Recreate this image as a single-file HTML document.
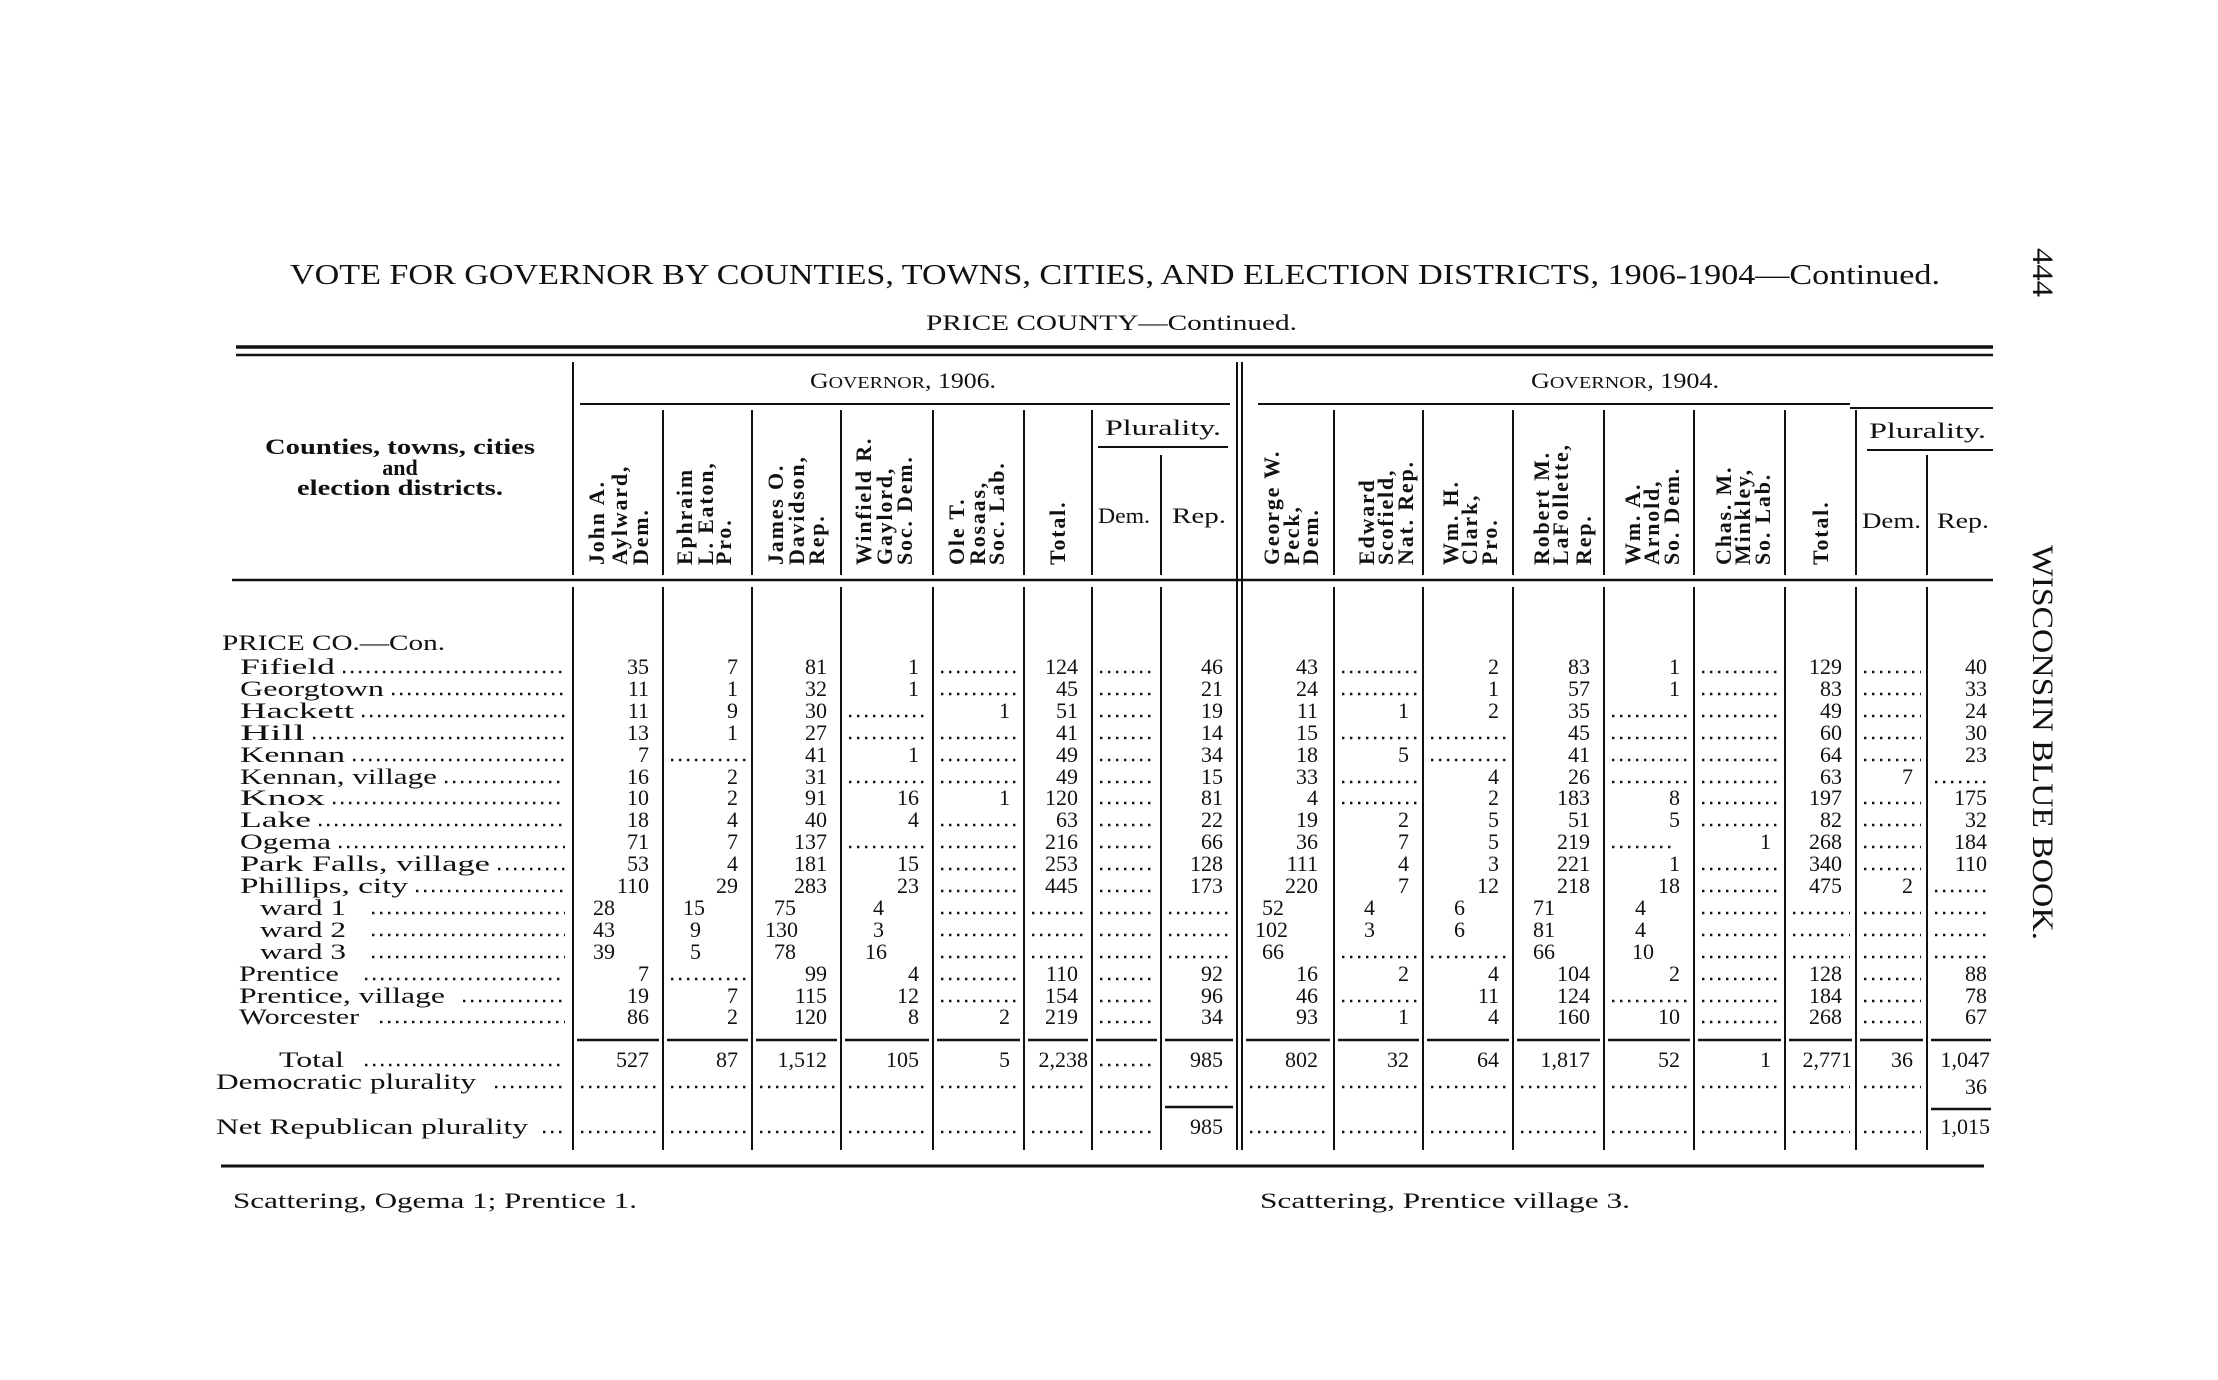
<!DOCTYPE html>
<html><head><meta charset="utf-8"><style>
html,body{margin:0;padding:0;background:#fff}
svg{display:block}
text{font-family:"Liberation Serif",serif;fill:#111}
.n text{font-size:22px;text-anchor:end}
.s text{text-anchor:start}
.d{fill:none;stroke:#111;stroke-width:2.6;stroke-dasharray:2.4 5.6}
.h{font-weight:bold;font-size:22px;letter-spacing:1.8px}
.l{stroke:#111;fill:none}
</style></head><body>
<svg width="2218" height="1380" viewBox="0 0 2218 1380" xmlns="http://www.w3.org/2000/svg">
<rect width="2218" height="1380" fill="#fff"/>
<text x="290" y="284" font-size="28" textLength="1650" lengthAdjust="spacingAndGlyphs">VOTE FOR GOVERNOR BY COUNTIES, TOWNS, CITIES, AND ELECTION DISTRICTS, 1906-1904—Continued.</text>
<text x="926" y="330" font-size="22" textLength="371" lengthAdjust="spacingAndGlyphs">PRICE COUNTY—Continued.</text>
<text transform="translate(2033,248) rotate(90)" font-size="30" textLength="49" lengthAdjust="spacingAndGlyphs">444</text>
<text transform="translate(2033,545) rotate(90)" font-size="30" textLength="395" lengthAdjust="spacingAndGlyphs">WISCONSIN BLUE BOOK.</text>

<path class="l" stroke-width="3.5" d="M236 347H1993"/>
<path class="l" stroke-width="2.5" d="M236 355H1993"/>
<path class="l" stroke-width="2.5" d="M232 580H1993"/>
<path class="l" stroke-width="2" d="M580 404H1230M1258 404H1850M1850 408H1993M1098 447H1228M1867 450H1993"/>
<path class="l" stroke-width="3" d="M221 1166H1984"/>
<path class="l" stroke-width="2" d="M573 362V575M663 410V575M752 410V575M841 410V575M933 410V575M1024 410V575M1092 410V575M1161 455V575M1237 362V1150M1242 362V1150M1334 410V575M1423 410V575M1513 410V575M1604 410V575M1694 410V575M1785 410V575M1856 410V575M1927 455V575"/>
<path class="l" stroke-width="2" d="M573 587V1150M663 587V1150M752 587V1150M841 587V1150M933 587V1150M1024 587V1150M1092 587V1150M1161 587V1150M1334 587V1150M1423 587V1150M1513 587V1150M1604 587V1150M1694 587V1150M1785 587V1150M1856 587V1150M1927 587V1150"/>

<g font-size="22" font-weight="bold" text-anchor="middle">
<text x="400" y="454" textLength="270" lengthAdjust="spacingAndGlyphs">Counties, towns, cities</text>
<text x="400" y="475">and</text>
<text x="400" y="495" textLength="206" lengthAdjust="spacingAndGlyphs">election districts.</text>
</g>
<text x="810" y="388" font-size="22" textLength="186" lengthAdjust="spacingAndGlyphs">G<tspan font-size="17">OVERNOR</tspan>, 1906.</text>
<text x="1531" y="388" font-size="22" textLength="188" lengthAdjust="spacingAndGlyphs">G<tspan font-size="17">OVERNOR</tspan>, 1904.</text>
<g font-size="22">
<text x="1105" y="435" textLength="116" lengthAdjust="spacingAndGlyphs">Plurality.</text>
<text x="1869" y="438" textLength="117" lengthAdjust="spacingAndGlyphs">Plurality.</text>
<text x="1098" y="523" textLength="52" lengthAdjust="spacingAndGlyphs">Dem.</text>
<text x="1172" y="523" textLength="54" lengthAdjust="spacingAndGlyphs">Rep.</text>
<text x="1862" y="528" textLength="59" lengthAdjust="spacingAndGlyphs">Dem.</text>
<text x="1937" y="528" textLength="52" lengthAdjust="spacingAndGlyphs">Rep.</text>
</g>
<g class="h">
<text transform="translate(604,565) rotate(-90)">John A.</text>
<text transform="translate(627,565) rotate(-90)">Aylward,</text>
<text transform="translate(648,565) rotate(-90)">Dem.</text>
<text transform="translate(692,565) rotate(-90)">Ephraim</text>
<text transform="translate(713,565) rotate(-90)">L. Eaton,</text>
<text transform="translate(731,565) rotate(-90)">Pro.</text>
<text transform="translate(783,565) rotate(-90)">James O.</text>
<text transform="translate(804,565) rotate(-90)">Davidson,</text>
<text transform="translate(824,565) rotate(-90)">Rep.</text>
<text transform="translate(871,565) rotate(-90)">Winfield R.</text>
<text transform="translate(892,565) rotate(-90)">Gaylord,</text>
<text transform="translate(912,565) rotate(-90)">Soc. Dem.</text>
<text transform="translate(964,565) rotate(-90)">Ole T.</text>
<text transform="translate(985,565) rotate(-90)">Rosaas,</text>
<text transform="translate(1004,565) rotate(-90)">Soc. Lab.</text>
<text transform="translate(1065,565) rotate(-90)">Total.</text>
<text transform="translate(1279,565) rotate(-90)">George W.</text>
<text transform="translate(1299,565) rotate(-90)">Peck,</text>
<text transform="translate(1318,565) rotate(-90)">Dem.</text>
<text transform="translate(1374,565) rotate(-90)">Edward</text>
<text transform="translate(1393,565) rotate(-90)">Scofield,</text>
<text transform="translate(1413,565) rotate(-90)">Nat. Rep.</text>
<text transform="translate(1458,565) rotate(-90)">Wm. H.</text>
<text transform="translate(1477,565) rotate(-90)">Clark,</text>
<text transform="translate(1497,565) rotate(-90)">Pro.</text>
<text transform="translate(1549,565) rotate(-90)">Robert M.</text>
<text transform="translate(1568,565) rotate(-90)">LaFollette,</text>
<text transform="translate(1591,565) rotate(-90)">Rep.</text>
<text transform="translate(1640,565) rotate(-90)">Wm. A.</text>
<text transform="translate(1659,565) rotate(-90)">Arnold,</text>
<text transform="translate(1679,565) rotate(-90)">So. Dem.</text>
<text transform="translate(1731,565) rotate(-90)">Chas. M.</text>
<text transform="translate(1750,565) rotate(-90)">Minkley,</text>
<text transform="translate(1770,565) rotate(-90)">So. Lab.</text>
<text transform="translate(1828,565) rotate(-90)">Total.</text>
</g>

<g font-size="22">
<text x="222" y="650" textLength="223" lengthAdjust="spacingAndGlyphs">PRICE CO.—Con.</text>
<text x="240" y="674" textLength="95" lengthAdjust="spacingAndGlyphs">Fifield</text>
<text x="240" y="696" textLength="144" lengthAdjust="spacingAndGlyphs">Georgtown</text>
<text x="240" y="718" textLength="114" lengthAdjust="spacingAndGlyphs">Hackett</text>
<text x="240" y="740" textLength="65" lengthAdjust="spacingAndGlyphs">Hill</text>
<text x="240" y="762" textLength="105" lengthAdjust="spacingAndGlyphs">Kennan</text>
<text x="240" y="784" textLength="197" lengthAdjust="spacingAndGlyphs">Kennan, village</text>
<text x="240" y="805" textLength="85" lengthAdjust="spacingAndGlyphs">Knox</text>
<text x="240" y="827" textLength="71" lengthAdjust="spacingAndGlyphs">Lake</text>
<text x="240" y="849" textLength="91" lengthAdjust="spacingAndGlyphs">Ogema</text>
<text x="240" y="871" textLength="250" lengthAdjust="spacingAndGlyphs">Park Falls, village</text>
<text x="240" y="893" textLength="168" lengthAdjust="spacingAndGlyphs">Phillips, city</text>
<text x="260" y="915" textLength="86" lengthAdjust="spacingAndGlyphs">ward 1</text>
<text x="260" y="937" textLength="86" lengthAdjust="spacingAndGlyphs">ward 2</text>
<text x="260" y="959" textLength="86" lengthAdjust="spacingAndGlyphs">ward 3</text>
<text x="239" y="981" textLength="100" lengthAdjust="spacingAndGlyphs">Prentice</text>
<text x="239" y="1003" textLength="206" lengthAdjust="spacingAndGlyphs">Prentice, village</text>
<text x="239" y="1024" textLength="120" lengthAdjust="spacingAndGlyphs">Worcester</text>
<text x="279" y="1067" textLength="65" lengthAdjust="spacingAndGlyphs">Total</text>
<text x="216" y="1089" textLength="260" lengthAdjust="spacingAndGlyphs">Democratic plurality</text>
<text x="216" y="1134" textLength="312" lengthAdjust="spacingAndGlyphs">Net Republican plurality</text>
<text x="233" y="1208" textLength="404" lengthAdjust="spacingAndGlyphs">Scattering, Ogema 1; Prentice 1.</text>
<text x="1260" y="1208" textLength="370" lengthAdjust="spacingAndGlyphs">Scattering, Prentice village 3.</text>
</g>
<path class="d" d="M343 672H565M392 694H565M362 716H565M313 738H565M353 760H565M445 782H565M333 803H565M319 825H565M339 847H565M498 869H565M416 891H565M372 913H565M372 935H565M372 957H565M365 979H565M463 1001H565M380 1022H565M365 1065H565M495 1087H565M543 1132H565"/>

<g class="n">
<text x="649" y="674">35</text><text x="738" y="674">7</text><text x="827" y="674">81</text><text x="919" y="674">1</text><text x="1078" y="674">124</text><text x="1223" y="674">46</text>
<text x="1318" y="674">43</text><text x="1499" y="674">2</text><text x="1590" y="674">83</text><text x="1680" y="674">1</text><text x="1842" y="674">129</text><text x="1987" y="674">40</text>
<text x="649" y="696">11</text><text x="738" y="696">1</text><text x="827" y="696">32</text><text x="919" y="696">1</text><text x="1078" y="696">45</text><text x="1223" y="696">21</text>
<text x="1318" y="696">24</text><text x="1499" y="696">1</text><text x="1590" y="696">57</text><text x="1680" y="696">1</text><text x="1842" y="696">83</text><text x="1987" y="696">33</text>
<text x="649" y="718">11</text><text x="738" y="718">9</text><text x="827" y="718">30</text><text x="1010" y="718">1</text><text x="1078" y="718">51</text><text x="1223" y="718">19</text>
<text x="1318" y="718">11</text><text x="1409" y="718">1</text><text x="1499" y="718">2</text><text x="1590" y="718">35</text><text x="1842" y="718">49</text><text x="1987" y="718">24</text>
<text x="649" y="740">13</text><text x="738" y="740">1</text><text x="827" y="740">27</text><text x="1078" y="740">41</text><text x="1223" y="740">14</text>
<text x="1318" y="740">15</text><text x="1590" y="740">45</text><text x="1842" y="740">60</text><text x="1987" y="740">30</text>
<text x="649" y="762">7</text><text x="827" y="762">41</text><text x="919" y="762">1</text><text x="1078" y="762">49</text><text x="1223" y="762">34</text>
<text x="1318" y="762">18</text><text x="1409" y="762">5</text><text x="1590" y="762">41</text><text x="1842" y="762">64</text><text x="1987" y="762">23</text>
<text x="649" y="784">16</text><text x="738" y="784">2</text><text x="827" y="784">31</text><text x="1078" y="784">49</text><text x="1223" y="784">15</text>
<text x="1318" y="784">33</text><text x="1499" y="784">4</text><text x="1590" y="784">26</text><text x="1842" y="784">63</text><text x="1913" y="784">7</text>
<text x="649" y="805">10</text><text x="738" y="805">2</text><text x="827" y="805">91</text><text x="919" y="805">16</text><text x="1010" y="805">1</text><text x="1078" y="805">120</text><text x="1223" y="805">81</text>
<text x="1318" y="805">4</text><text x="1499" y="805">2</text><text x="1590" y="805">183</text><text x="1680" y="805">8</text><text x="1842" y="805">197</text><text x="1987" y="805">175</text>
<text x="649" y="827">18</text><text x="738" y="827">4</text><text x="827" y="827">40</text><text x="919" y="827">4</text><text x="1078" y="827">63</text><text x="1223" y="827">22</text>
<text x="1318" y="827">19</text><text x="1409" y="827">2</text><text x="1499" y="827">5</text><text x="1590" y="827">51</text><text x="1680" y="827">5</text><text x="1842" y="827">82</text><text x="1987" y="827">32</text>
<text x="649" y="849">71</text><text x="738" y="849">7</text><text x="827" y="849">137</text><text x="1078" y="849">216</text><text x="1223" y="849">66</text>
<text x="1318" y="849">36</text><text x="1409" y="849">7</text><text x="1499" y="849">5</text><text x="1590" y="849">219</text><text x="1771" y="849">1</text><text x="1842" y="849">268</text><text x="1987" y="849">184</text>
<text x="649" y="871">53</text><text x="738" y="871">4</text><text x="827" y="871">181</text><text x="919" y="871">15</text><text x="1078" y="871">253</text><text x="1223" y="871">128</text>
<text x="1318" y="871">111</text><text x="1409" y="871">4</text><text x="1499" y="871">3</text><text x="1590" y="871">221</text><text x="1680" y="871">1</text><text x="1842" y="871">340</text><text x="1987" y="871">110</text>
<text x="649" y="893">110</text><text x="738" y="893">29</text><text x="827" y="893">283</text><text x="919" y="893">23</text><text x="1078" y="893">445</text><text x="1223" y="893">173</text>
<text x="1318" y="893">220</text><text x="1409" y="893">7</text><text x="1499" y="893">12</text><text x="1590" y="893">218</text><text x="1680" y="893">18</text><text x="1842" y="893">475</text><text x="1913" y="893">2</text>
<text x="649" y="981">7</text><text x="827" y="981">99</text><text x="919" y="981">4</text><text x="1078" y="981">110</text><text x="1223" y="981">92</text>
<text x="1318" y="981">16</text><text x="1409" y="981">2</text><text x="1499" y="981">4</text><text x="1590" y="981">104</text><text x="1680" y="981">2</text><text x="1842" y="981">128</text><text x="1987" y="981">88</text>
<text x="649" y="1003">19</text><text x="738" y="1003">7</text><text x="827" y="1003">115</text><text x="919" y="1003">12</text><text x="1078" y="1003">154</text><text x="1223" y="1003">96</text>
<text x="1318" y="1003">46</text><text x="1499" y="1003">11</text><text x="1590" y="1003">124</text><text x="1842" y="1003">184</text><text x="1987" y="1003">78</text>
<text x="649" y="1024">86</text><text x="738" y="1024">2</text><text x="827" y="1024">120</text><text x="919" y="1024">8</text><text x="1010" y="1024">2</text><text x="1078" y="1024">219</text><text x="1223" y="1024">34</text>
<text x="1318" y="1024">93</text><text x="1409" y="1024">1</text><text x="1499" y="1024">4</text><text x="1590" y="1024">160</text><text x="1680" y="1024">10</text><text x="1842" y="1024">268</text><text x="1987" y="1024">67</text>
<text x="649" y="1067">527</text><text x="738" y="1067">87</text><text x="827" y="1067">1,512</text><text x="919" y="1067">105</text><text x="1010" y="1067">5</text><text x="1088" y="1067">2,238</text><text x="1223" y="1067">985</text>
<text x="1318" y="1067">802</text><text x="1409" y="1067">32</text><text x="1499" y="1067">64</text><text x="1590" y="1067">1,817</text><text x="1680" y="1067">52</text><text x="1771" y="1067">1</text><text x="1852" y="1067">2,771</text><text x="1913" y="1067">36</text><text x="1990" y="1067">1,047</text>
<text x="1987" y="1094">36</text>
<text x="1223" y="1134">985</text><text x="1990" y="1134">1,015</text>
</g>
<g class="n s">
<text x="593" y="915">28</text><text x="683" y="915">15</text><text x="774" y="915">75</text><text x="873" y="915">4</text>
<text x="1262" y="915">52</text><text x="1364" y="915">4</text><text x="1454" y="915">6</text><text x="1533" y="915">71</text><text x="1635" y="915">4</text>
<text x="593" y="937">43</text><text x="690" y="937">9</text><text x="765" y="937">130</text><text x="873" y="937">3</text>
<text x="1255" y="937">102</text><text x="1364" y="937">3</text><text x="1454" y="937">6</text><text x="1533" y="937">81</text><text x="1635" y="937">4</text>
<text x="593" y="959">39</text><text x="690" y="959">5</text><text x="774" y="959">78</text><text x="865" y="959">16</text>
<text x="1262" y="959">66</text><text x="1533" y="959">66</text><text x="1632" y="959">10</text>
</g>
<path class="d" d="
M941 672h77M1100 672h55M1342 672h75M1702 672h77M1864 672h57
M941 694h77M1100 694h55M1342 694h75M1702 694h77M1864 694h57
M849 716h78M1100 716h55M1612 716h76M1702 716h77M1864 716h57
M849 738h78M941 738h77M1100 738h55M1342 738h75M1431 738h76M1612 738h76M1702 738h77M1864 738h57
M671 760h75M941 760h77M1100 760h55M1431 760h76M1612 760h76M1702 760h77M1864 760h57
M849 782h78M941 782h77M1100 782h55M1342 782h75M1612 782h76M1702 782h77M1935 782h52
M1100 803h55M1342 803h75M1702 803h77M1864 803h57
M941 825h77M1100 825h55M1702 825h77M1864 825h57
M849 847h78M941 847h77M1100 847h55M1612 847h60M1864 847h57
M941 869h77M1100 869h55M1702 869h77M1864 869h57
M941 891h77M1100 891h55M1702 891h77M1935 891h52
M941 913h77M1032 913h54M1100 913h55M1169 913h62M1702 913h77M1793 913h57M1864 913h57M1935 913h52
M941 935h77M1032 935h54M1100 935h55M1169 935h62M1702 935h77M1793 935h57M1864 935h57M1935 935h52
M941 957h77M1032 957h54M1100 957h55M1169 957h62M1342 957h75M1431 957h76M1702 957h77M1793 957h57M1864 957h57M1935 957h52
M671 979h75M941 979h77M1100 979h55M1702 979h77M1864 979h57
M941 1001h77M1100 1001h55M1342 1001h75M1612 1001h76M1702 1001h77M1864 1001h57
M1100 1022h55M1702 1022h77M1864 1022h57
M1100 1065h55
M581 1087h76M671 1087h75M760 1087h75M849 1087h78M941 1087h77M1032 1087h54M1100 1087h55M1169 1087h62M1250 1087h78M1342 1087h75M1431 1087h76M1521 1087h77M1612 1087h76M1702 1087h77M1793 1087h57M1864 1087h57
M581 1132h76M671 1132h75M760 1132h75M849 1132h78M941 1132h77M1032 1132h54M1100 1132h55M1250 1132h78M1342 1132h75M1431 1132h76M1521 1132h77M1612 1132h76M1702 1132h77M1793 1132h57M1864 1132h57"/>
<path class="l" stroke-width="2.5" d="M577 1040h82M667 1040h81M756 1040h81M845 1040h84M937 1040h83M1028 1040h60M1096 1040h61M1165 1040h68M1246 1040h84M1338 1040h81M1427 1040h82M1517 1040h83M1608 1040h82M1698 1040h83M1789 1040h63M1860 1040h63M1931 1040h60M1165 1107h68M1931 1109h60"/>
</svg>
</body></html>
